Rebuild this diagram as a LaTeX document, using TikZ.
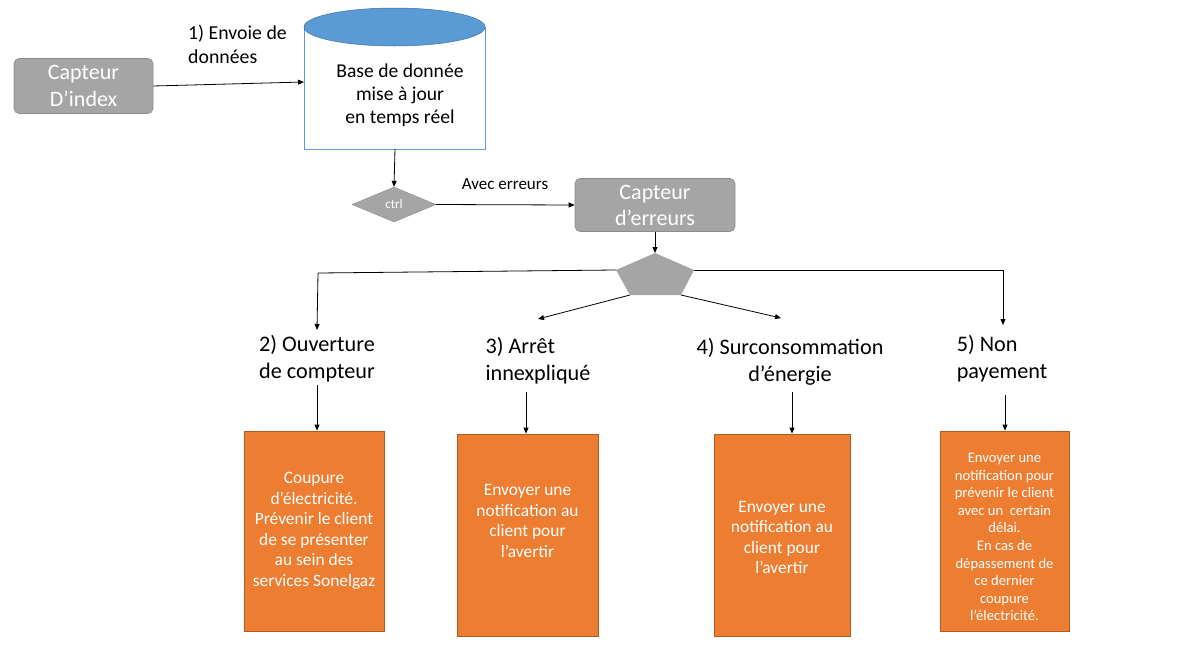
\documentclass[tikz,border=0pt]{standalone}
\usepackage{fontspec}
\setmainfont{Carlito}
\usetikzlibrary{arrows.meta,shapes.geometric}
\definecolor{gbox}{HTML}{A5A5A5}
\definecolor{gline}{HTML}{8C8C8C}
\definecolor{dbblue}{HTML}{5B9BD5}
\definecolor{dbedge}{HTML}{41719C}
\definecolor{orfill}{HTML}{ED7D31}
\definecolor{oredge}{HTML}{AE5A21}
\tikzset{
  x=1pt,y=-1pt,
  arr/.style={draw=black,line width=0.8pt,-{Triangle[length=6pt,width=5pt]}},
  ln/.style={draw=black,line width=0.8pt},
  graybox/.style={draw=gline,fill=gbox,rounded corners=5pt,line width=0.6pt,text=white,align=center,inner sep=0pt},
  orbox/.style={draw=oredge,fill=orfill,line width=0.8pt,inner sep=0pt},
  ortext/.style={text=white,align=center,font=\fontsize{17.4}{20.5}\selectfont},
  lbl/.style={font=\fontsize{22.2}{27}\selectfont,align=center,inner sep=0pt},
}
\begin{document}
\begin{tikzpicture}
\useasboundingbox (0,0) rectangle (1183,662);
% Capteur D'index
\node[graybox,minimum width=139pt,minimum height=55pt,font=\fontsize{22}{27}\selectfont] (ci) at (83.5,86) {Capteur\\D’index};
% database cylinder
\draw[dbblue,line width=0.8pt,fill=white] (304,27) -- (304,149) -- (485,149) -- (485,27);
\node[draw=dbedge,fill=dbblue,ellipse,minimum width=181pt,minimum height=38pt,inner sep=0pt,line width=0.5pt] (dbtop) at (394.5,27) {};
\coordinate (db) at (304,82);
\coordinate (dbb) at (395,149);
\node[align=center,font=\fontsize{19.6}{23}\selectfont,inner sep=0pt] (dbt) at (400,95) {Base de donnée\\mise à jour\\ en temps réel};
\draw[arr] (ci.east) -- (db);
\node[align=left,font=\fontsize{19.8}{24}\selectfont,inner sep=0pt,anchor=north west] (l1) at (188,25) {1) Envoie de\\données};
% ctrl diamond
\node[diamond,draw=gline,fill=gbox,minimum width=84pt,minimum height=35pt,inner sep=0pt,aspect=2.4,text=white,font=\fontsize{13}{15}\selectfont] (ctrl) at (394,204.5) {ctrl};
\draw[arr] (dbb) -- (ctrl.north);
% Capteur d'erreurs
\node[graybox,minimum width=160pt,minimum height=53pt,font=\fontsize{22}{26}\selectfont] (ce) at (655,205) {Capteur\\d’erreurs};
\draw[arr] (ctrl.east) -- (ce.west);
\node[font=\fontsize{17}{19}\selectfont,inner sep=0pt] (ae) at (505,184) {Avec erreurs};
% pentagon
\coordinate (pt) at (655,253);
\coordinate (pl) at (616,270);
\coordinate (pr) at (694,270);
\coordinate (pbl) at (630,295);
\coordinate (pbr) at (681,295);
\fill[gbox] (pt) -- (pr) -- (pbr) -- (pbl) -- (pl) -- cycle;
\draw[arr] (ce.south) -- (pt);
% labels
\node[lbl] (t2) at (317,358.5) {2) Ouverture\\de compteur};
\node[lbl,align=left] (t3) at (538,361) {3) Arrêt\\innexpliqué};
\node[lbl] (t4) at (790,362) {4) Surconsommation\\d’énergie};
\node[lbl,align=left] (t5) at (1002,358.5) {5) Non\\payement};
\coordinate (a2) at (317,330);
\coordinate (a3) at (538,319);
\coordinate (a4) at (781,318);
\coordinate (a5) at (1003,325);
\draw[arr] (pl) -- (318,273) -- (a2);
\draw[arr] (pr) -- (1003,270) -- (a5);
\draw[arr] (pbl) -- (a3);
\draw[arr] (pbr) -- (a4);
% orange boxes
\node[orbox,minimum width=140pt,minimum height=200pt] (b1) at (314,531) {};
\node[orbox,minimum width=141pt,minimum height=202pt] (b2) at (527.5,535) {};
\node[orbox,minimum width=136pt,minimum height=202pt] (b3) at (782,535) {};
\node[orbox,minimum width=129pt,minimum height=200pt] (b4) at (1004.5,531) {};
\node[ortext] at (314,531) {Coupure\\d’électricité.\\Prévenir le client\\de se présenter\\au sein des\\services Sonelgaz};
\node[ortext] at (527.5,521) {Envoyer une\\notification au\\client pour\\l’avertir};
\node[ortext] at (782,537.5) {Envoyer une\\notification au\\client pour\\l’avertir};
\node[text=white,align=center,font=\fontsize{14.6}{17.6}\selectfont] at (1004.5,537) {Envoyer une\\notification pour\\prévenir le client\\avec un~ certain\\délai.\\En cas de\\dépassement de\\ce dernier\\coupure\\l’électricité.};
% arrows to boxes
\coordinate (s2) at (317,385);
\coordinate (s3) at (526,392);
\coordinate (s4) at (792,392);
\coordinate (s5) at (1005,395);
\draw[arr] (s2) -- (b1.north -| s2);
\draw[arr] (s3) -- (b2.north -| s3);
\draw[arr] (s4) -- (b3.north -| s4);
\draw[arr] (s5) -- (b4.north -| s5);
\end{tikzpicture}
\end{document}
